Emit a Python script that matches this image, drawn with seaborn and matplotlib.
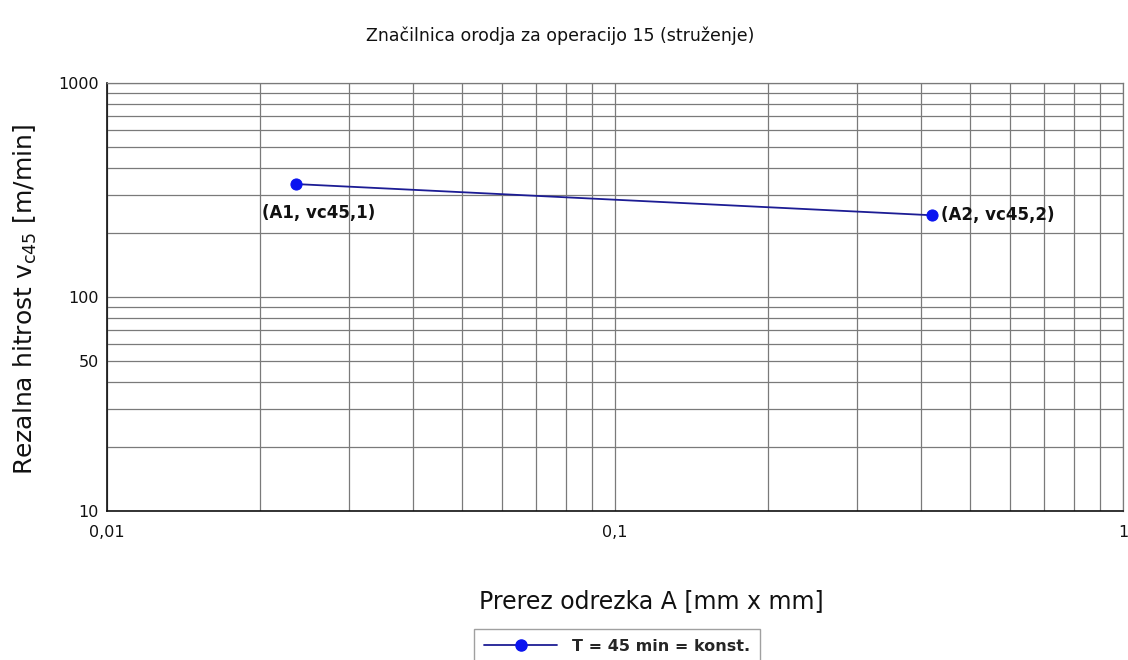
import numpy as np
import pandas as pd
import matplotlib
matplotlib.use("Agg")
import matplotlib.pyplot as plt
import seaborn as sns
from matplotlib.ticker import FixedLocator, LogLocator, NullFormatter, FixedFormatter
from matplotlib.lines import Line2D

# ---- data ----
A_values = [0.0236, 0.42]
vc_values = [337, 241]
point_labels = ["(A1, vc45,1)", "(A2, vc45,2)"]
series_name = "T = 45 min = konst."
x_ticks = [0.01, 0.1, 1]
x_tick_labels = ["0,01", "0,1", "1"]
y_ticks = [10, 50, 100, 1000]
y_tick_labels = ["10", "50", "100", "1000"]

title = "Značilnica orodja za operacijo 15 (struženje)"
xlabel = "Prerez odrezka A [mm x mm]"
ylabel = r"Rezalna hitrost v$_{c45}$ [m/min]"

sns.set_theme(style="white")
plt.rcParams["font.family"] = ["DejaVu Sans"]
plt.rcParams["mathtext.default"] = "regular"

df = pd.DataFrame({"A": A_values, "vc": vc_values, "s": series_name})

fig = plt.figure(figsize=(11.28, 6.6), dpi=100)
ax = fig.add_axes([107 / 1128, 1 - 511 / 660, (1123 - 107) / 1128, (511 - 83) / 660])

sns.lineplot(data=df, x="A", y="vc", hue="s", palette=["#1c1c94"], marker="o",
             markersize=8, markerfacecolor="#0a14f0", markeredgecolor="#0a14f0",
             linewidth=1.3, ax=ax, legend=False, zorder=5)

ax.set_xscale("log")
ax.set_yscale("log")
ax.set_xlim(0.01, 1)
ax.set_ylim(10, 1000)

ax.xaxis.set_major_locator(FixedLocator(x_ticks))
ax.xaxis.set_major_formatter(FixedFormatter(x_tick_labels))
ax.xaxis.set_minor_locator(LogLocator(base=10, subs=np.arange(2, 10)))
ax.xaxis.set_minor_formatter(NullFormatter())
ax.yaxis.set_major_locator(FixedLocator(y_ticks))
ax.yaxis.set_major_formatter(FixedFormatter(y_tick_labels))
ax.yaxis.set_minor_locator(LogLocator(base=10, subs=np.arange(2, 10)))
ax.yaxis.set_minor_formatter(NullFormatter())

ax.grid(which="both", color="#7a7a7a", linewidth=0.9)
ax.tick_params(which="both", length=0, labelsize=11.5, colors="#111111")
ax.tick_params(axis="x", pad=10)
ax.tick_params(axis="y", pad=6)
for side in ["left", "bottom"]:
    ax.spines[side].set_color("#111111")
    ax.spines[side].set_linewidth(1.2)
for side in ["top", "right"]:
    ax.spines[side].set_color("#7a7a7a")
    ax.spines[side].set_linewidth(0.9)
ax.set_xlabel("")
ax.set_ylabel("")

# point annotations
ax.annotate(point_labels[0], (A_values[0], vc_values[0]), xytext=(-24.5, -21),
            textcoords="offset points", fontsize=12, fontweight="bold", ha="left", va="center",
            color="#111111")
ax.annotate(point_labels[1], (A_values[1], vc_values[1]), xytext=(7, 0),
            textcoords="offset points", fontsize=12, fontweight="bold", ha="left", va="center",
            color="#111111")

fig.text(560 / 1128, 1 - 36 / 660, title, fontsize=12.5, ha="center", va="center", color="#111111")
fig.text(651 / 1128, 1 - 601 / 660, xlabel, fontsize=17, ha="center", va="center", color="#111111")
fig.text(25 / 1128, 1 - 299 / 660, ylabel, fontsize=18, ha="center", va="center", rotation=90,
         color="#111111")

handle = Line2D([], [], color="#1c1c94", marker="o", markersize=8,
                markerfacecolor="#0a14f0", markeredgecolor="#0a14f0", linewidth=1.3)
leg = fig.legend([handle], [series_name], loc="upper center",
                 bbox_to_anchor=(617 / 1128, 1 - 621 / 660), frameon=True, fancybox=False,
                 prop={"weight": "bold", "size": 11.5}, handlelength=4.6, borderpad=0.6,
                 handletextpad=0.9)
leg.get_frame().set_edgecolor("#888888")
leg.get_frame().set_linewidth(1.0)

fig.savefig("out.png", dpi=100)
